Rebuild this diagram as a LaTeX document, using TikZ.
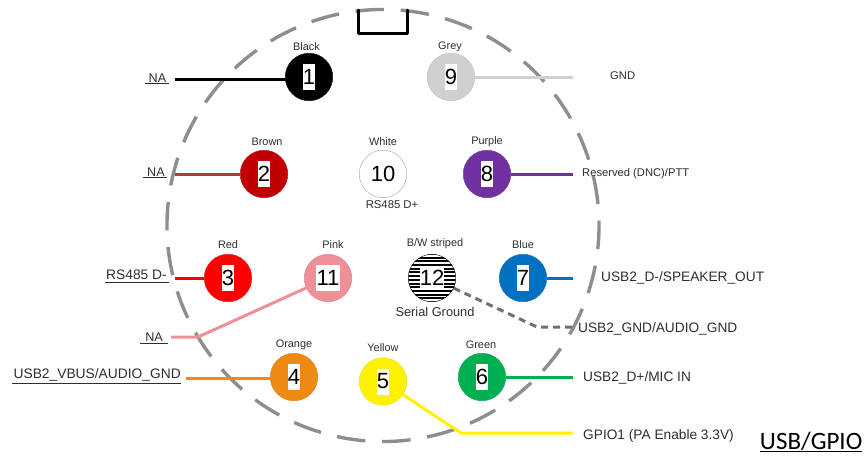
\documentclass[tikz,border=0pt]{standalone}
\usepackage{fontspec}
\setmainfont{Liberation Sans}
\newfontfamily\cbr{Carlito}
\usetikzlibrary{backgrounds}
\definecolor{ringgrey}{HTML}{8E8E8E}
\definecolor{dashgrey}{HTML}{707070}
\definecolor{pinbrown}{HTML}{C00000}
\definecolor{wirebrown}{HTML}{A5423C}
\definecolor{pinpurple}{HTML}{7030A0}
\definecolor{pinblue}{HTML}{0070C0}
\definecolor{pingreen}{HTML}{00B050}
\definecolor{pinorange}{HTML}{EE8A12}
\definecolor{pinpink}{HTML}{EE9095}
\definecolor{pingrey}{HTML}{D0D0D0}
\definecolor{txt}{HTML}{2E2E2E}
\tikzset{
  pindot/.style={circle,minimum size=47.5pt,inner sep=0pt,draw=#1!80!gray,line width=.5pt,fill=#1},
  num/.style={fill=white,inner sep=0pt,font=\fontsize{22}{22}\selectfont,text=black,minimum height=26pt,minimum width=12.5pt},
  pincap/.style={font=\fontsize{10.9}{12}\selectfont,text=txt,inner sep=0pt},
  lab/.style={font=\fontsize{13.7}{15}\selectfont,text=txt,inner sep=0pt,anchor=west},
  smalllab/.style={font=\fontsize{11.2}{13}\selectfont,text=txt,inner sep=0pt,anchor=west},
  ulab/.style={font=\fontsize{13.8}{15}\selectfont,text=txt,inner sep=0pt,anchor=east},
  nalab/.style={font=\fontsize{12.6}{14}\selectfont,text=txt,inner sep=0pt},
  wire/.style={line width=3pt,draw=#1},
  uline/.style={line width=.9pt,draw=txt}
}
\begin{document}
\begin{tikzpicture}[x=1pt,y=-1pt]
\useasboundingbox (0,0) rectangle (865,459);
% wire ends
\coordinate (w1) at (175,79);
\coordinate (w2) at (175,174);
\coordinate (w3) at (175,278);
\coordinate (w4) at (186,378);
\coordinate (w11a) at (198,337);
\coordinate (w11b) at (171,337);
\coordinate (w5a) at (461,433);
\coordinate (w5b) at (573,433);
\coordinate (w6) at (573,377);
\coordinate (w7) at (573,278);
\coordinate (w8) at (573,174);
\coordinate (w9) at (573,77);
\coordinate (w12a) at (537,327);
\coordinate (w12b) at (576,327);
% pins
\node[pindot=black] (p1) at (309,77) {};
\node[pindot=pinbrown] (p2) at (264,174) {};
\node[pindot=red] (p3) at (228,278) {};
\node[pindot=pinorange] (p4) at (294,377) {};
\node[pindot=yellow] (p5) at (383,381.5) {};
\node[pindot=pingreen] (p6) at (482,377) {};
\node[pindot=pinblue] (p7) at (523,278) {};
\node[pindot=pinpurple] (p8) at (487,174) {};
\node[pindot=pingrey] (p9) at (451,77) {};
\node[pindot=white,draw=gray!60] (p10) at (383,174) {};
\node[pindot=pinpink] (p11) at (328,278) {};
\node[circle,minimum size=47.5pt,inner sep=0pt,draw=black,line width=.4pt,fill=white,
  path picture={\foreach \yy in {0,...,13} \draw[black,line width=2pt] (-30pt,{(-24+\yy*3.7)*1pt})--(30pt,{(-24+\yy*3.7)*1pt});}] (p12) at (432,278) {};
\begin{scope}[on background layer]
% connector shell
\draw[ringgrey,line width=3.4pt,dash pattern=on 28.5pt off 16.74pt] (383,225.5) ++(-73.3:216) arc[start angle=-73.3,end angle=286.7,radius=216];
\draw[black,line width=3pt,line cap=round,line join=round] (358,10)--(358,33)--(407.5,33)--(407.5,10);
% wires
\draw[wire=black] (w1)--(w1-|p1);
\draw[wire=wirebrown] (w2)--(p2);
\draw[wire=red] (w3)--(p3);
\draw[wire=pinorange] (w4)--(w4-|p4);
\draw[wire=pinpink,line join=round] (w11b)--(w11a)--(p11);
\draw[wire=yellow,line join=round] (p5)--(w5a)--(w5b);
\draw[wire=pingreen] (p6)--(w6);
\draw[wire=pinblue] (p7)--(w7);
\draw[wire=pinpurple] (p8)--(w8);
\draw[wire=pingrey] (p9)--(w9);
\draw[dashgrey,line width=3pt,dash pattern=on 7pt off 5pt] (p12) -- (w12a) -- (w12b);
\end{scope}
% numbers
\node[num] at (p1) {1};\node[num] at (p2) {2};\node[num] at (p3) {3};\node[num] at (p4) {4};
\node[num] at (p5) {5};\node[num] at (p6) {6};\node[num] at (p7) {7};\node[num] at (p8) {8};
\node[num] at (p9) {9};\node[num,fill=none] at (p10) {10};\node[num,minimum width=24pt] at (p11) {11};
\node[num,minimum width=24pt,minimum height=24pt] at (p12) {12};
% captions
\node[pincap] at (306.5,47) {Black};
\node[pincap] at (450,47) {Grey};
\node[pincap] at (267,142) {Brown};
\node[pincap] at (383,142) {White};
\node[pincap] at (487,142) {Purple};
\node[pincap,font=\fontsize{11.3}{13}\selectfont] at (392,205) {RS485 D+};
\node[pincap] at (228,245) {Red};
\node[pincap] at (333,245) {Pink};
\node[pincap] at (435,244) {B/W striped};
\node[pincap] at (523,245) {Blue};
\node[pincap,font=\fontsize{12.8}{14}\selectfont] at (435,312) {Serial Ground};
\node[pincap] at (294,345) {Orange};
\node[pincap] at (383,348) {Yellow};
\node[pincap] at (481,345) {Green};
% labels left
\node[nalab] (lna1) at (157.5,78) {NA};
\draw[uline] (145,83.5)--(169,83.5);
\node[nalab] (lna2) at (156,172) {NA};
\draw[uline] (143,177)--(167,177);
\node[ulab] (lrs) at (167,275) {RS485 D-};
\draw[uline] (105,282)--(169,282);
\node[nalab] (lna3) at (154,337) {NA};
\draw[uline] (140,343)--(168,343);
\node[ulab] (lusb) at (181,375) {USB2\_VBUS/AUDIO\_GND};
\draw[uline] (12,383)--(181,383);
% labels right
\node[smalllab] (lgnd) at (610,76) {GND};
\node[smalllab] (lres) at (582,174) {Reserved (DNC)/PTT};
\node[lab] (lspk) at (601,278) {USB2\_D-/SPEAKER\_OUT};
\node[lab] (lag) at (578,329) {USB2\_GND/AUDIO\_GND};
\node[lab] (lmic) at (583,378) {USB2\_D+/MIC IN};
\node[lab] (lgpio) at (583,436) {GPIO1 (PA Enable 3.3V)};
\node[inner sep=0pt,anchor=east,font=\cbr\fontsize{25}{26}\selectfont,text=black] (lug) at (862.5,442) {\underline{USB/GPIO}};
\end{tikzpicture}
\end{document}
